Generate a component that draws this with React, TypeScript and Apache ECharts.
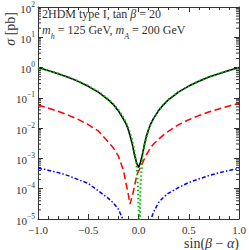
import React, { useEffect, useRef } from "react";
import * as echarts from "echarts";

// sin(beta - alpha) sample points
const sinBA = [-1, -0.9, -0.8, -0.7, -0.6, -0.5, -0.4, -0.3, -0.25, -0.2, -0.15, -0.12, -0.1, -0.085, -0.06, -0.04, -0.02, -0.01, 0, 0.01, 0.02, 0.04, 0.06, 0.08, 0.1, 0.12, 0.15, 0.2, 0.25, 0.3, 0.4, 0.5, 0.6, 0.7, 0.8, 0.9, 1];

// cross sections [pb]
const sigmaTotal = [1.0, 0.8, 0.63, 0.48, 0.35, 0.24, 0.155, 0.086, 0.06, 0.037, 0.02, 0.013, 0.0085, 0.0058, 0.0028, 0.0013, 7.5e-4, 6e-4, 5e-4, 6e-4, 7.5e-4, 1.4e-3, 3.0e-3, 5.6e-3, 9e-3, 0.0135, 0.021, 0.038, 0.06, 0.088, 0.157, 0.245, 0.355, 0.485, 0.63, 0.8, 1.0];
const sigmaGreen = [1.0, 0.81, 0.64, 0.49, 0.36, 0.25, 0.16, 0.09, 0.0625, 0.04, 0.0225, 0.0144, 0.0098, 0.007, 0.0036, 0.0017, 6.5e-4, 2.4e-4, 3e-5, 1e-6, 1.2e-4, 1.2e-3, 2.8e-3, 5.2e-3, 8.6e-3, 0.013, 0.021, 0.039, 0.0615, 0.089, 0.159, 0.248, 0.358, 0.488, 0.635, 0.805, 1.0];
const sigmaRed = [0.058, 0.046, 0.036, 0.027, 0.0195, 0.013, 0.0081, 0.0035, 0.0022, 0.0012, 4.0e-4, 1.3e-4, 6e-5, 3.1e-5, 6e-5, 1.2e-4, 2.5e-4, 3.2e-4, 3.8e-4, 4.4e-4, 5.2e-4, 7e-4, 1.0e-3, 1.35e-3, 1.75e-3, 2.3e-3, 3.0e-3, 4.3e-3, 6e-3, 8e-3, 0.013, 0.019, 0.026, 0.034, 0.043, 0.054, 0.066];
const sigmaBlue = [4.8e-4, 4.1e-4, 3.4e-4, 2.7e-4, 2.0e-4, 1.5e-4, 8.5e-5, 4.8e-5, 3.4e-5, 2.1e-5, 9e-6, 5.5e-6, 4e-6, 3e-6, 2e-6, 1e-6, 6e-7, 5e-7, 5e-7, 6e-7, 8e-7, 1.2e-6, 2e-6, 3.5e-6, 5.5e-6, 9e-6, 1.7e-5, 3.5e-5, 5.3e-5, 7.2e-5, 1.1e-4, 1.6e-4, 2.1e-4, 2.7e-4, 3.35e-4, 4.0e-4, 4.7e-4];

const xTicks = [-1, -0.5, 0, 0.5, 1];
const minorMantissas = [2, 3, 4, 5, 6, 7, 8, 9];
const minorDecades = [-5, -4, -3, -2, -1, 0, 1];

const FONT = "Liberation Serif";
const TXT = "#333";

function pairs(vals: number[]) {
  return sinBA.map((x, i) => [x, vals[i]]);
}

export default function App() {
  const ref = useRef<HTMLDivElement>(null);
  useEffect(() => {
    if (!ref.current) return;
    const chart = echarts.init(ref.current, null, { renderer: "svg" });
    const minorVals: number[][] = [];
    minorDecades.forEach((d) => minorMantissas.forEach((m) => minorVals.push([0, m * Math.pow(10, d)])));
    const xAxisBase = {
      type: "value",
      min: -1,
      max: 1,
      interval: 0.5,
      axisLine: { onZero: false, lineStyle: { color: TXT, width: 1 } },
      axisTick: { inside: true, length: 5, lineStyle: { color: TXT } },
      minorTick: { show: true, splitNumber: 5, length: 3, lineStyle: { color: TXT } },
      splitLine: { show: false },
    };
    const yAxisBase = {
      type: "log",
      logBase: 10,
      min: 1e-5,
      max: 100,
      splitNumber: 7,
      axisLine: { show: true, onZero: false, lineStyle: { color: TXT, width: 1 } },
      axisTick: { show: true, inside: true, length: 5, lineStyle: { color: TXT } },
      splitLine: { show: false },
    };
    chart.setOption({
      animation: false,
      grid: { left: 38, right: 10, top: 5, bottom: 31 },
      xAxis: [
        {
          ...xAxisBase,
          position: "bottom",
          axisLabel: {
            color: TXT,
            fontFamily: FONT,
            fontSize: 11,
            margin: 5,
            formatter: (v: number) => (xTicks.includes(v) ? v.toFixed(1).replace("-", "\u2212") : ""),
          },
        },
        { ...xAxisBase, position: "top", axisLabel: { show: false } },
      ],
      yAxis: [
        {
          ...yAxisBase,
          position: "left",
          axisLabel: {
            color: TXT,
            fontFamily: FONT,
            margin: 3,
            formatter: (v: number) => {
              const e = Math.round(Math.log10(v));
              return "{b|10}{s|" + (e < 0 ? "\u2212" + -e : String(e)) + "}";
            },
            rich: {
              b: { fontSize: 11, fontFamily: FONT, color: TXT, lineHeight: 14, verticalAlign: "bottom" },
              s: { fontSize: 7.5, fontFamily: FONT, color: TXT, lineHeight: 14, verticalAlign: "top" },
            },
          },
        },
        { ...yAxisBase, position: "right", axisLabel: { show: false } },
      ],
      graphic: [
        {
          type: "text",
          left: 42,
          top: 8,
          style: {
            text: "{r|2HDM type I, tan }{i|\u03b2}{r| = 20}",
            rich: {
              r: { fontFamily: FONT, fontSize: 12, fill: TXT },
              i: { fontFamily: FONT, fontSize: 12, fontStyle: "italic", fill: TXT },
            },
          },
        },
        {
          type: "text",
          left: 42,
          top: 24,
          style: {
            text: "{i|m}{s|h}{r| = 125 GeV, }{i|m}{s|A}{r| = 200 GeV}",
            rich: {
              r: { fontFamily: FONT, fontSize: 12, fill: TXT, lineHeight: 16, verticalAlign: "top" },
              i: { fontFamily: FONT, fontSize: 12, fontStyle: "italic", fill: TXT, lineHeight: 16, verticalAlign: "top" },
              s: { fontFamily: FONT, fontSize: 8, fontStyle: "italic", fill: TXT, lineHeight: 16, verticalAlign: "bottom" },
            },
          },
        },
        {
          type: "text",
          left: 3,
          top: 12,
          rotation: Math.PI / 2,
          style: {
            text: "{i|\u03c3}{r| [pb]}",
            rich: {
              r: { fontFamily: FONT, fontSize: 14, fill: TXT },
              i: { fontFamily: FONT, fontSize: 14, fontStyle: "italic", fill: TXT },
            },
          },
        },
        {
          type: "text",
          right: 10,
          top: 236,
          style: {
            text: "{r|sin(}{i|\u03b2}{r| \u2212 }{i|\u03b1}{r|)}",
            rich: {
              r: { fontFamily: FONT, fontSize: 14, fill: TXT },
              i: { fontFamily: FONT, fontSize: 14, fontStyle: "italic", fill: TXT },
            },
          },
        },
      ],
      series: [
        {
          type: "custom",
          xAxisIndex: 0,
          yAxisIndex: 0,
          silent: true,
          z: 1,
          data: minorVals,
          renderItem: (_p: any, api: any) => {
            const v = api.value(1);
            const l = api.coord([-1, v]);
            const r = api.coord([1, v]);
            return {
              type: "group",
              children: [
                { type: "line", shape: { x1: l[0], y1: l[1], x2: l[0] + 3, y2: l[1] }, style: { stroke: TXT, lineWidth: 1 } },
                { type: "line", shape: { x1: r[0] - 3, y1: r[1], x2: r[0], y2: r[1] }, style: { stroke: TXT, lineWidth: 1 } },
              ],
            };
          },
        },
        {
          type: "line",
          data: pairs(sigmaBlue),
          showSymbol: false,
          lineStyle: { color: "#0000ff", width: 1.5, type: [4, 2, 1.5, 2] },
          z: 2,
        },
        {
          type: "line",
          data: pairs(sigmaRed),
          showSymbol: false,
          lineStyle: { color: "#ff0000", width: 1.5, type: [7, 3.5] },
          z: 3,
        },
        {
          type: "line",
          data: pairs(sigmaTotal),
          showSymbol: false,
          lineStyle: { color: "#000000", width: 1.6, type: "solid" },
          z: 4,
        },
        {
          type: "line",
          data: pairs(sigmaGreen),
          showSymbol: false,
          lineStyle: { color: "#00b400", width: 2, type: [1.5, 2.5] },
          z: 5,
        },
      ],
    });
    return () => chart.dispose();
  }, []);
  return <div ref={ref} style={{ width: 249, height: 250, position: "absolute", left: 0, top: 0 }} />;
}
